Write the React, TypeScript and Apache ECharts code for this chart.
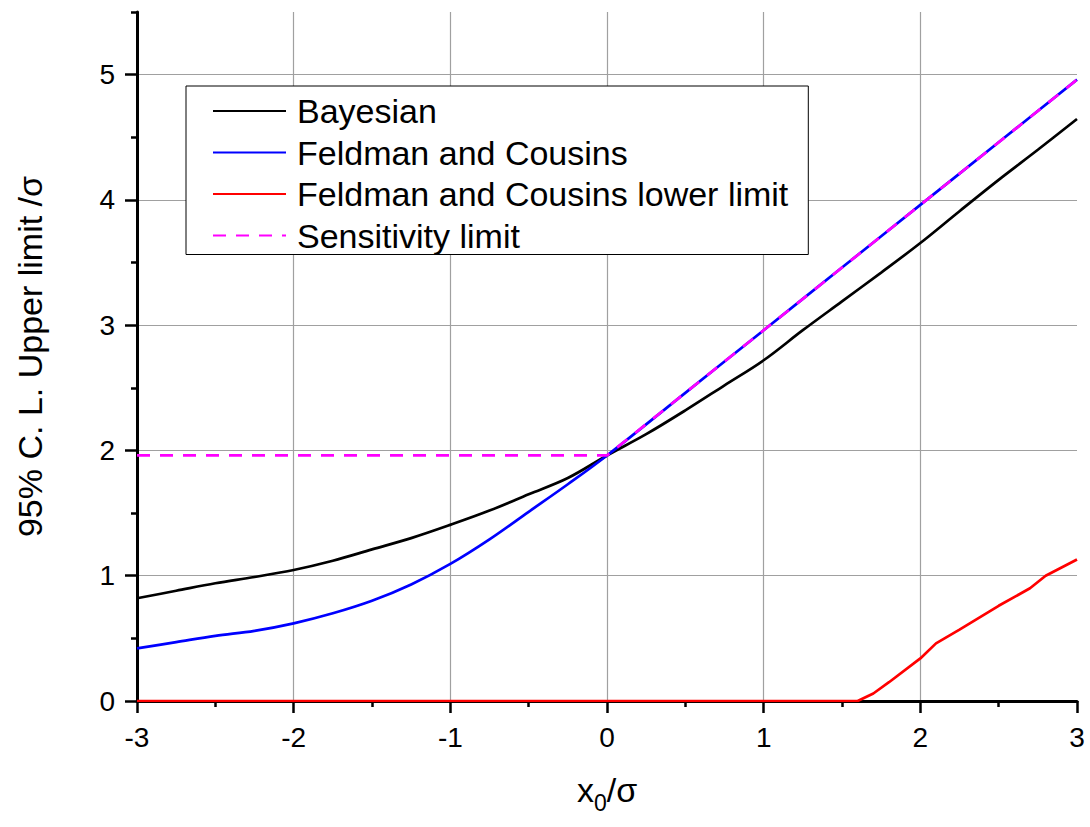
import React, { useEffect, useRef } from "react";
import * as echarts from "echarts";

// ---- Data ----
const bayesX = [-3, -2.75, -2.5, -2.25, -2, -1.75, -1.5, -1.25, -1, -0.75, -0.5, -0.25, 0, 0.25, 0.5, 0.75, 1, 1.25, 1.5, 1.75, 2, 2.25, 2.5, 2.75, 3];
const bayesY = [0.82, 0.88, 0.94, 0.99, 1.046, 1.12, 1.21, 1.3, 1.406, 1.52, 1.65, 1.78, 1.96, 2.13, 2.32, 2.52, 2.72, 2.96, 3.19, 3.42, 3.656, 3.91, 4.16, 4.4, 4.646];

const fcX = [-3, -2.75, -2.5, -2.25, -2, -1.75, -1.5, -1.25, -1, -0.75, -0.5, -0.25, 0, 0.5, 1, 1.5, 2, 2.5, 3];
const fcY = [0.42, 0.47, 0.52, 0.56, 0.62, 0.7, 0.8, 0.93, 1.094, 1.29, 1.51, 1.73, 1.96, 2.46, 2.96, 3.46, 3.96, 4.46, 4.96];

const fcLowX = [-3, -2, -1, 0, 1, 1.6, 1.7, 1.8, 2, 2.1, 2.25, 2.5, 2.7, 2.8, 3];
const fcLowY = [0, 0, 0, 0, 0, 0, 0.06, 0.15, 0.34, 0.46, 0.57, 0.76, 0.9, 1.0, 1.13];

const sensX = [-3, 0, 3];
const sensY = [1.96, 1.96, 4.96];

const seriesNames = ["Bayesian", "Feldman and Cousins", "Feldman and Cousins lower limit", "Sensitivity limit"];

const yMajorTicks = [0, 1, 2, 3, 4, 5];
const yMinorTicks = [0.5, 1.5, 2.5, 3.5, 4.5, 5.5];
const xGridTicks = [-2, -1, 0, 1, 2];

const FONT = "'Liberation Sans', Arial, Helvetica, sans-serif";

function zip(xs: number[], ys: number[]) {
  return xs.map((x, i) => [x, ys[i]]);
}

export default function App() {
  const ref = useRef<HTMLDivElement>(null);

  useEffect(() => {
    if (!ref.current) return;
    const chart = echarts.init(ref.current, undefined, { renderer: "svg" });
    const axisLine = { show: true, onZero: false, lineStyle: { color: "#000", width: 3 } };
    const lineW = 2.7;
    const option: any = {
      animation: false,
      backgroundColor: "#fff",
      grid: { left: 137, right: 13, top: 12, bottom: 126, containLabel: false },
      legend: {
        orient: "vertical",
        left: 186,
        top: 86,
        padding: [8, 20, 2, 26],
        itemGap: 7.5,
        itemWidth: 73,
        itemHeight: 14,
        borderColor: "#000",
        borderWidth: 1,
        backgroundColor: "#fff",
        itemStyle: { opacity: 0 },
        data: seriesNames,
        textStyle: { fontFamily: FONT, fontSize: 34, color: "#000", lineHeight: 34, padding: [0, 0, 0, 6] },
      },
      xAxis: [
        {
          type: "value",
          min: -3,
          max: 3,
          interval: 1,
          position: "bottom",
          axisLine,
          axisTick: { show: true, length: 12, lineStyle: { color: "#000", width: 2.5 } },
          minorTick: { show: true, splitNumber: 2, length: 6, lineStyle: { color: "#000", width: 2.5 } },
          axisLabel: { fontFamily: FONT, fontSize: 28, color: "#000", margin: 22 },
          splitLine: { show: false },
          name: "{i|x}{s|0}{i|/σ}",
          nameLocation: "middle",
          nameGap: 72,
          nameTextStyle: {
            rich: {
              i: { fontFamily: FONT, fontSize: 34, color: "#000", lineHeight: 38, verticalAlign: "top" },
              s: { fontFamily: FONT, fontSize: 23, color: "#000", lineHeight: 23, verticalAlign: "top", padding: [18, 0, 0, 0] },
            },
          },
        },
        {
          type: "value",
          min: -3,
          max: 3,
          position: "bottom",
          axisLine: { show: false, onZero: false },
          axisTick: { show: false, customValues: xGridTicks },
          axisLabel: { show: false },
          splitLine: { show: true, lineStyle: { color: "#a0a0a0", width: 1.2 } },
        },
      ],
      yAxis: [
        {
          type: "value",
          min: 0,
          max: 5.5,
          interval: 1,
          position: "left",
          axisLine,
          axisTick: { show: true, length: 12, customValues: yMajorTicks, lineStyle: { color: "#000", width: 2.5 } },
          axisLabel: { fontFamily: FONT, fontSize: 28, color: "#000", margin: 22, customValues: yMajorTicks },
          splitLine: { show: true, lineStyle: { color: "#a0a0a0", width: 1.2 } },
          name: "95% C. L. Upper limit /σ",
          nameLocation: "middle",
          nameRotate: 90,
          nameGap: 90,
          nameTextStyle: { fontFamily: FONT, fontSize: 34, color: "#000" },
        },
        {
          type: "value",
          min: 0,
          max: 5.5,
          position: "left",
          axisLine: { show: false, onZero: false },
          axisTick: { show: true, length: 6, customValues: yMinorTicks, lineStyle: { color: "#000", width: 2.5 } },
          axisLabel: { show: false },
          splitLine: { show: false },
        },
      ],
      series: [
        {
          name: seriesNames[0],
          type: "line",
          data: zip(bayesX, bayesY),
          symbol: "none",
          smooth: 0.35,
          lineStyle: { color: "#000", width: lineW },
          itemStyle: { color: "#000" },
          z: 3,
        },
        {
          name: seriesNames[1],
          type: "line",
          data: zip(fcX, fcY),
          symbol: "none",
          smooth: 0.35,
          lineStyle: { color: "#0000ff", width: lineW },
          itemStyle: { color: "#0000ff" },
          z: 3,
        },
        {
          name: seriesNames[2],
          type: "line",
          data: zip(fcLowX, fcLowY),
          symbol: "none",
          lineStyle: { color: "#ff0000", width: lineW },
          itemStyle: { color: "#ff0000" },
          z: 4,
        },
        {
          name: seriesNames[3],
          type: "line",
          data: zip(sensX, sensY),
          symbol: "none",
          lineStyle: { color: "#ff00ff", width: lineW, type: [13, 10] },
          itemStyle: { color: "#ff00ff" },
          z: 5,
        },
      ],
    };
    chart.setOption(option);
    return () => chart.dispose();
  }, []);

  return (
    <div
      ref={ref}
      style={{ position: "fixed", left: 0, top: 0, width: 1090, height: 827, background: "#fff" }}
    />
  );
}
